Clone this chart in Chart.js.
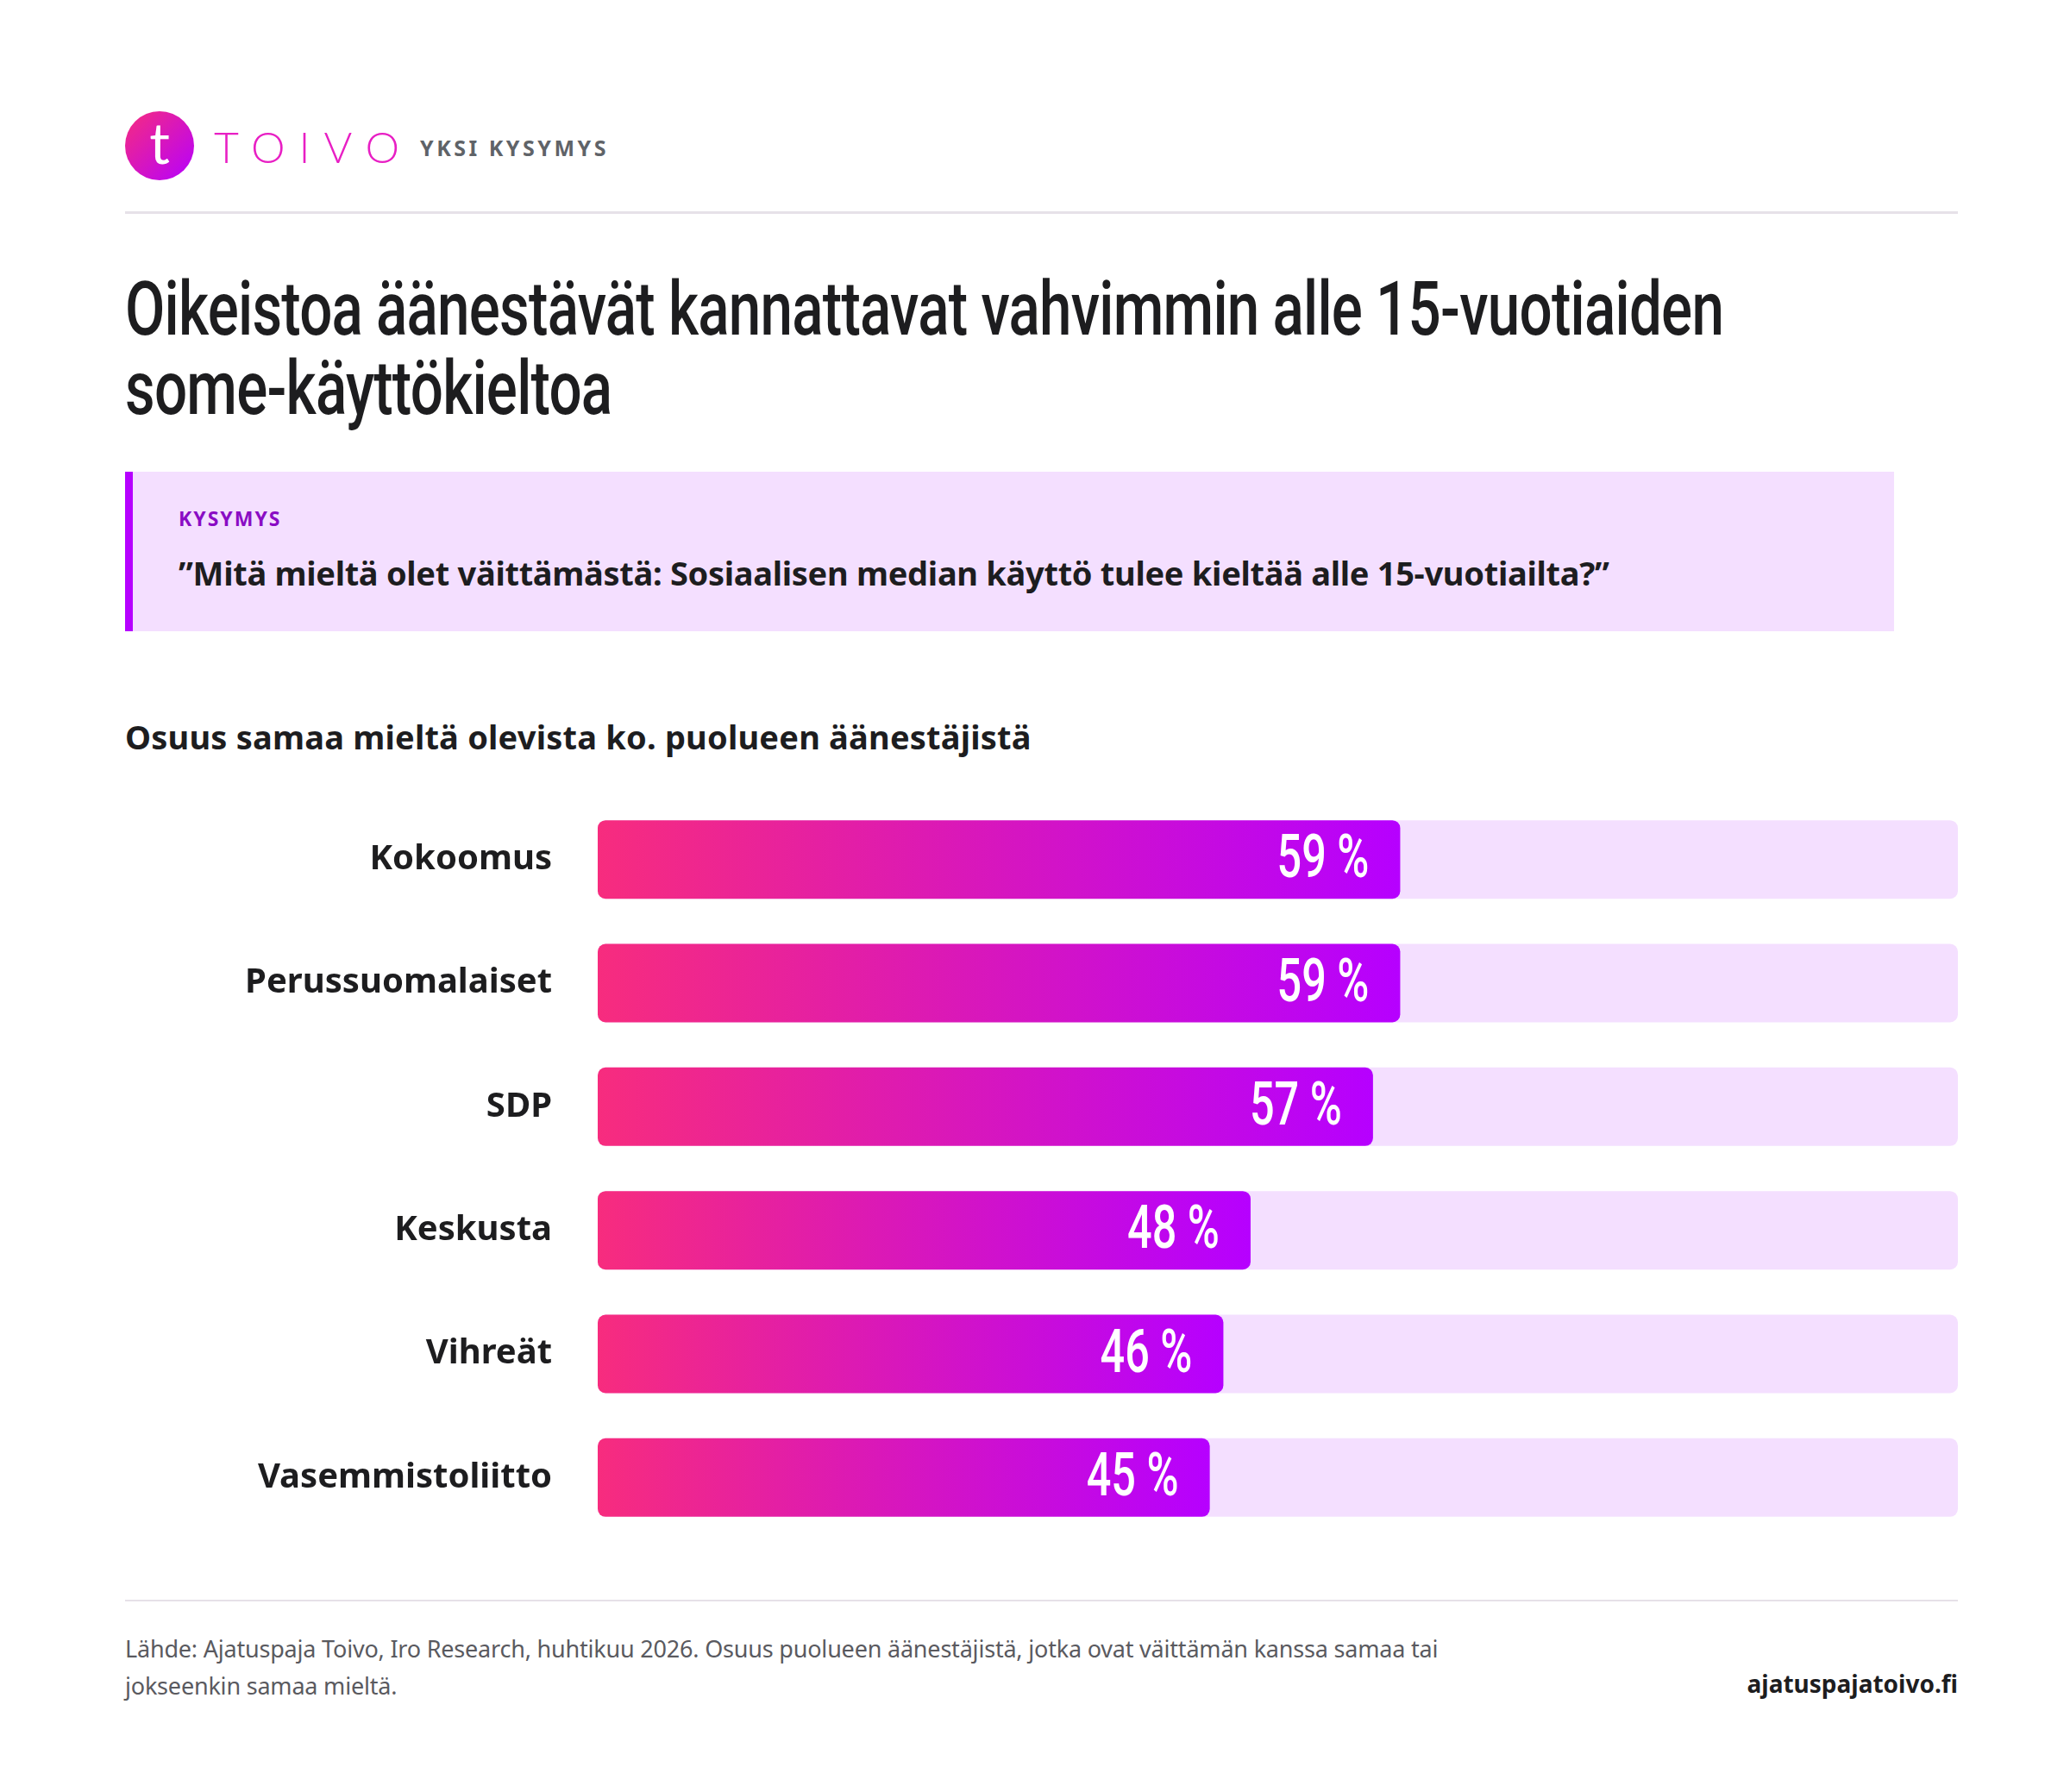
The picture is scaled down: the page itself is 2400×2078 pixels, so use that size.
<!DOCTYPE html>
<html>
<head>
<meta charset="utf-8">
<script src="https://cdn.jsdelivr.net/npm/chart.js@4"></script>
<style>
  body { margin: 0; width: 2400px; height: 2078px; background: #fff; position: relative; font-family: "Noto Sans", "Open Sans", sans-serif; color: #1d1d1f; overflow: hidden; }
  .abs { position: absolute; }
  .logo { left: 145px; top: 129px; width: 80px; height: 80px; border-radius: 50%; background: linear-gradient(135deg, #f72c7e, #b600ff); color: #fff; font-size: 66px; line-height: 72px; text-align: center; font-family: "Lato", sans-serif; }
  .brand { left: 248px; top: 140px; font-size: 50px; letter-spacing: 16px; color: #e81fc4; font-family: "Lato", sans-serif; font-weight: 300; line-height: 60px; }
  .kicker { left: 487px; top: 154px; font-size: 25px; letter-spacing: 3.5px; color: #5f6368; font-weight: 700; }
  .rule { left: 145px; width: 2125px; height: 3px; background: #e6e1e8; }
  h1 { position: absolute; left: 145px; top: 312px; margin: 0; font-family: "Roboto", sans-serif; font-weight: 500; font-size: 88px; line-height: 92px; color: #1d1d1f; transform: scaleX(0.765); transform-origin: left top; width: 3000px; letter-spacing: -1px; }
  .qbox { left: 145px; top: 547px; width: 2042px; height: 185px; background: #f4dfff; border-left: 9px solid #b600ff; }
  .qlabel { left: 53px; top: 38px; font-size: 23px; font-weight: 700; letter-spacing: 2px; color: #8a0cc4; }
  .qtext { left: 53px; top: 91px; font-size: 38px; font-weight: 700; letter-spacing: -0.3px; color: #1d1d1f; white-space: nowrap; }
  .sub { left: 145px; top: 828px; font-size: 38px; font-weight: 700; letter-spacing: 0.2px; }
  .foot { left: 145px; top: 1890px; font-size: 27px; line-height: 43px; color: #5a5a5f; width: 1540px; letter-spacing: -0.2px; }
  .site { right: 130px; top: 1933px; font-size: 28px; font-weight: 700; }
  #wrap { left: 145px; top: 856px; width: 2125px; height: 998px; }
</style>
</head>
<body>
<div class="abs logo">t</div>
<div class="abs brand">TOIVO</div>
<div class="abs kicker">YKSI KYSYMYS</div>
<div class="abs rule" style="top:245px"></div>
<h1>Oikeistoa äänestävät kannattavat vahvimmin alle 15-vuotiaiden<br>some-käyttökieltoa</h1>
<div class="abs qbox">
  <div class="abs qlabel">KYSYMYS</div>
  <div class="abs qtext">”Mitä mieltä olet väittämästä: Sosiaalisen median käyttö tulee kieltää alle 15-vuotiailta?”</div>
</div>
<div class="abs sub">Osuus samaa mieltä olevista ko. puolueen äänestäjistä</div>
<div class="abs" id="wrap"><canvas id="chart"></canvas></div>
<div class="abs rule" style="top:1855px; height:2px"></div>
<div class="abs foot">Lähde: Ajatuspaja Toivo, Iro Research, huhtikuu 2026. Osuus puolueen äänestäjistä, jotka ovat väittämän kanssa samaa tai jokseenkin samaa mieltä.</div>
<div class="abs site">ajatuspajatoivo.fi</div>
<script>
  // ---------- Data ----------
  const parties = ["Kokoomus", "Perussuomalaiset", "SDP", "Keskusta", "Vihreät", "Vasemmistoliitto"];
  const agreeShare = [59, 59, 57, 48, 46, 45];
  const trackMax = [100, 100, 100, 100, 100, 100];

  function barGradient(ctx) {
    const chart = ctx.chart;
    if (!chart.chartArea) return "#d41cc0";
    const xs = chart.scales.x;
    const x0 = xs.getPixelForValue(0);
    const x1 = xs.getPixelForValue(ctx.raw || 1);
    const g = chart.ctx.createLinearGradient(x0, 0, x1, 0);
    g.addColorStop(0, "#f72c7e");
    g.addColorStop(1, "#b600ff");
    return g;
  }

  // condensed-looking value text: draw Roboto squeezed horizontally
  const valueLabels = {
    id: "valueLabels",
    afterDatasetsDraw(chart) {
      const c = chart.ctx;
      const meta = chart.getDatasetMeta(1);
      const sx = 0.72;
      c.save();
      c.fillStyle = "#fff";
      c.textAlign = "right";
      c.textBaseline = "middle";
      c.font = '500 70px "Roboto", sans-serif';
      meta.data.forEach((bar, i) => {
        c.save();
        c.translate(bar.x - 36, bar.y + 3);
        c.scale(sx, 1);
        c.fillText(agreeShare[i] + " %", 0, 0);
        c.restore();
      });
      c.restore();
    }
  };

  new Chart(document.getElementById("chart"), {
    type: "bar",
    data: {
      labels: parties,
      datasets: [
        { data: trackMax, backgroundColor: "#f4dfff", borderRadius: 9, borderSkipped: false, order: 2 },
        { data: agreeShare, backgroundColor: barGradient, borderRadius: 9, borderSkipped: false, order: 1 }
      ]
    },
    options: {
      indexAxis: "y",
      responsive: true,
      maintainAspectRatio: false,
      animation: false,
      layout: { padding: 0 },
      datasets: { bar: { grouped: false, categoryPercentage: 1, barPercentage: 0.635 } },
      plugins: { legend: { display: false }, tooltip: { enabled: false } },
      scales: {
        x: { min: 0, max: 100, display: false },
        y: {
          grid: { display: false }, border: { display: false },
          afterFit(s) { s.width = 548; },
          ticks: { color: "#1d1d1f", padding: 45, font: { family: '"Noto Sans", sans-serif', size: 40, weight: "bold" } }
        }
      }
    },
    plugins: [valueLabels]
  });
</script>
</body>
</html>
